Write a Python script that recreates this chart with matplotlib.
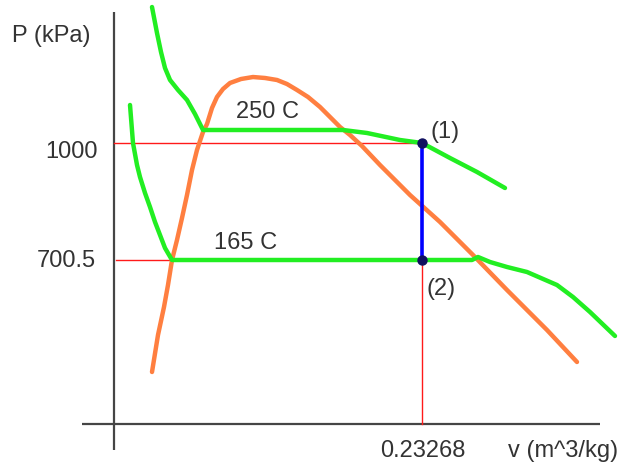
import matplotlib
matplotlib.use("Agg")
import matplotlib.pyplot as plt

# ---- data (schematic P-v diagram, v in m^3/kg, P in kPa) ----
iso250_v = [0.02871, 0.03248, 0.03551, 0.03853, 0.04231, 0.04835, 0.05515, 0.06119, 0.06724,
            0.17300, 0.19113, 0.21601, 0.23268, 0.25383, 0.27423, 0.29538]
iso250_P = [1348.1, 1281.6, 1232.9, 1192.0, 1161.3, 1135.7, 1110.1, 1074.2, 1033.3,
            1033.3, 1025.6, 1007.7, 1000.0, 961.6, 925.8, 884.8]

iso165_v = [0.01209, 0.01435, 0.01738, 0.01964, 0.02342, 0.02720, 0.03097, 0.03475,
            0.03853, 0.04382, 0.27045, 0.27498, 0.28405, 0.29689, 0.31200, 0.33466,
            0.34675, 0.35959, 0.37848]
iso165_P = [1097.3, 1000.0, 943.7, 913.0, 872.0, 836.2, 797.8, 764.5,
            731.2, 700.5, 700.5, 708.2, 695.4, 682.6, 669.8, 636.5,
            605.8, 567.4, 506.0]

dome_v = [0.02871, 0.03324, 0.03777, 0.04079, 0.04382, 0.04759, 0.05137, 0.05515,
          0.05893, 0.06270, 0.06724, 0.07026, 0.07403, 0.07781, 0.08234, 0.08763,
          0.09594, 0.10501, 0.11407, 0.12314, 0.13069, 0.13825, 0.14656, 0.15562,
          0.16318, 0.17073, 0.17829, 0.18735, 0.20095, 0.22361, 0.24628, 0.27121,
          0.29689, 0.32711, 0.34977]
dome_P = [413.8, 508.5, 580.2, 636.5, 700.5, 751.7, 808.0, 866.9,
          930.9, 982.1, 1028.2, 1048.6, 1089.6, 1117.8, 1138.2, 1153.6,
          1163.8, 1168.9, 1166.4, 1161.3, 1151.0, 1135.7, 1117.8, 1092.2,
          1066.6, 1041.0, 1020.5, 992.3, 943.7, 866.9, 797.8, 713.3,
          623.7, 521.3, 439.4]

v_state = 0.23268
P_states = [1000.0, 700.5]
state_labels = ["(1)", "(2)"]
P_tick_labels = ["1000", "700.5"]
v_tick_label = "0.23268"
iso_labels = ["250 C", "165 C"]

# ---- layout ----
W, H = 627, 465
fig = plt.figure(figsize=(W / 100, H / 100), dpi=100)
ax = fig.add_axes([0, 0, 1, 1])
ax.set_axis_off()

kx = 0.23268 / 308.0     # v per pixel
ky = 299.5 / 117.0       # kPa per pixel
def vx(px):
    return (px - 114) * kx
def pp(py):
    return 700.5 + (260 - py) * ky

ax.set_xlim(vx(0), vx(W))
ax.set_ylim(pp(H), pp(0))

P_axis = pp(424)
axis_col = "#454545"
# axes lines
ax.plot([vx(82), vx(600)], [P_axis, P_axis], color=axis_col, lw=1.6, solid_capstyle="butt", zorder=1)
ax.plot([0, 0], [pp(450), pp(12)], color=axis_col, lw=1.6, solid_capstyle="butt", zorder=1)

# red guide lines
red = "#ff1a1a"
ax.plot([0, v_state], [P_states[0], P_states[0]], color=red, lw=1.0, zorder=2)
ax.plot([vx(116), v_state], [P_states[1], P_states[1]], color=red, lw=1.0, zorder=2)
ax.plot([v_state, v_state], [P_states[1], P_axis], color=red, lw=1.0, zorder=2)

# curves
orange = "#ff7f40"
green = "#22ee22"
ax.plot(dome_v, dome_P, color=orange, lw=3.2, solid_capstyle="round", solid_joinstyle="round", zorder=3)
ax.plot(iso250_v, iso250_P, color=green, lw=3.2, solid_capstyle="round", solid_joinstyle="round", zorder=4)
ax.plot(iso165_v, iso165_P, color=green, lw=3.2, solid_capstyle="round", solid_joinstyle="round", zorder=4)

# process line and states
ax.plot([v_state, v_state], P_states, color="#0000ff", lw=2.6, zorder=5)
ax.plot([v_state] * 2, P_states, linestyle="none", marker="o", markersize=6.5,
        color="#101060", zorder=6)

# text
tc = "#333333"
fs = 17
fam = ["Liberation Sans", "DejaVu Sans"]
def ftext(x, y, s, ha="center"):
    fig.text(x / W, 1 - y / H, s, ha=ha, va="center", fontsize=fs, color=tc, family=fam)

ftext(51, 36, "P (kPa)")
ftext(98, 152, P_tick_labels[0], ha="right")
ftext(96, 261, P_tick_labels[1], ha="right")
ftext(423, 451, v_tick_label)
ftext(563, 451, "v (m^3/kg)")
ftext(268, 112, iso_labels[0])
ftext(246, 243, iso_labels[1])
ftext(445, 132, state_labels[0])
ftext(441, 289, state_labels[1])

fig.savefig("out.png", dpi=100)
